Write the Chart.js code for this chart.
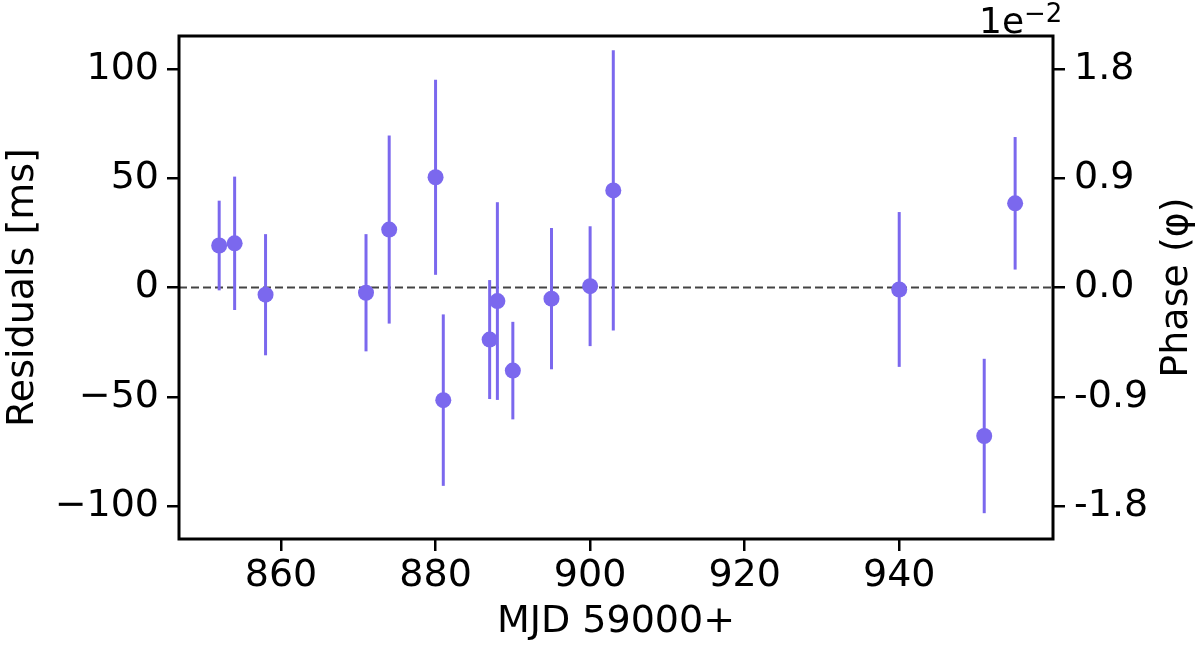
<!DOCTYPE html>
<html>
<head>
<meta charset="utf-8">
<script src="https://cdn.jsdelivr.net/npm/chart.js@4/dist/chart.umd.min.js"></script>
<style>
  html, body { margin: 0; padding: 0; background: #fff; }
  #wrap { width: 1200px; height: 645px; }
</style>
</head>
<body>
<div id="wrap"><canvas id="c" width="1200" height="645"></canvas></div>
<script>
// MJD offsets (59000+), timing residuals [ms] and their 1-sigma errors
var mjd    = [852, 854, 858, 871, 874, 880, 881, 887, 888, 890, 895, 900, 903, 940, 951, 955];
var resid  = [19.2, 20.2, -3.3, -2.4, 26.5, 50.4, -51.5, -23.8, -6.2, -38.0, -5.1, 0.6, 44.4, -0.9, -67.9, 38.5];
var err    = [20.5, 30.5, 27.7, 26.8, 43.0, 44.6, 39.2, 27.2, 45.2, 22.3, 32.3, 27.4, 64.1, 35.4, 35.3, 30.3];

var xTicks     = [860, 880, 900, 920, 940];
var yTicks     = [-100, -50, 0, 50, 100];
var phaseTicks = [-1.8, -0.9, 0, 0.9, 1.8];   // x 1e-2
var phasePerMs = 0.018;                       // phase (1e-2) per ms

var yMin = -115, yMax = 115;
var purple = '#7b68ee';
var font = { family: 'DejaVu Sans', size: 38 };

var points = mjd.map(function (m, i) { return { x: m, y: resid[i] }; });

function fixTicks(values) {
    return function (scale) {
        scale.ticks = values.map(function (v) { return { value: v }; });
    };
}

// error bars, zero line and the axes box
var decor = {
    id: 'decor',
    beforeDatasetsDraw: function (chart) {
        var ctx = chart.ctx, xs = chart.scales.x, ys = chart.scales.y, a = chart.chartArea;
        ctx.save();
        ctx.strokeStyle = '#444';
        ctx.lineWidth = 2;
        ctx.setLineDash([8, 4]);
        ctx.beginPath();
        ctx.moveTo(a.left, ys.getPixelForValue(0));
        ctx.lineTo(a.right, ys.getPixelForValue(0));
        ctx.stroke();
        ctx.setLineDash([]);
        ctx.strokeStyle = purple;
        ctx.lineWidth = 3;
        mjd.forEach(function (m, i) {
            var px = xs.getPixelForValue(m);
            ctx.beginPath();
            ctx.moveTo(px, ys.getPixelForValue(resid[i] - err[i]));
            ctx.lineTo(px, ys.getPixelForValue(resid[i] + err[i]));
            ctx.stroke();
        });
        ctx.restore();
    },
    afterDraw: function (chart) {
        var ctx = chart.ctx, a = chart.chartArea;
        ctx.save();
        ctx.strokeStyle = '#000';
        ctx.lineWidth = 3;
        ctx.strokeRect(a.left, a.top, a.right - a.left, a.bottom - a.top);

        ctx.fillStyle = '#000';
        ctx.font = '38px "DejaVu Sans"';
        ctx.textAlign = 'center';
        ctx.textBaseline = 'middle';
        ctx.translate(1177, (a.top + a.bottom) / 2);
        ctx.rotate(-Math.PI / 2);
        ctx.fillText('Phase (φ)', 0, 0);
        ctx.restore();

        // offset text of the phase axis
        ctx.save();
        ctx.fillStyle = '#000';
        ctx.textAlign = 'left';
        ctx.textBaseline = 'alphabetic';
        ctx.font = '36px "DejaVu Sans"';
        ctx.fillText('1e', a.right - 74, 33);
        var w = ctx.measureText('1e').width;
        ctx.font = '26px "DejaVu Sans"';
        ctx.fillText('−2', a.right - 74 + w, 22);
        ctx.restore();
    }
};

new Chart(document.getElementById('c'), {
    type: 'scatter',
    data: {
        datasets: [{
            data: points,
            backgroundColor: purple,
            borderWidth: 0,
            pointRadius: 8,
            pointHoverRadius: 8
        }]
    },
    options: {
        responsive: false,
        animation: false,
        events: [],
        layout: { padding: { top: 36, left: 0, right: 0, bottom: 0 } },
        plugins: { legend: { display: false }, tooltip: { enabled: false } },
        scales: {
            x: {
                type: 'linear',
                min: 846.8,
                max: 959.9,
                afterBuildTicks: fixTicks(xTicks),
                afterFit: function (s) { s.height = 106; },
                grid: { drawOnChartArea: false, color: '#000', lineWidth: 2.5, tickLength: 12 },
                border: { display: false },
                ticks: { color: '#000', font: font, padding: 2, maxRotation: 0,
                         callback: function (v) { return String(v); } },
                title: { display: true, text: 'MJD 59000+', color: '#000', font: font, padding: 0 }
            },
            y: {
                type: 'linear',
                position: 'left',
                min: yMin,
                max: yMax,
                afterBuildTicks: fixTicks(yTicks),
                afterFit: function (s) { s.width = 179; },
                grid: { drawOnChartArea: false, color: '#000', lineWidth: 2.5, tickLength: 12 },
                border: { display: false },
                ticks: { color: '#000', font: font, padding: 8,
                         callback: function (v) { return v < 0 ? '−' + Math.abs(v) : String(v); } },
                title: { display: true, text: 'Residuals [ms]', color: '#000', font: font, padding: 0 }
            },
            phase: {
                type: 'linear',
                position: 'right',
                min: yMin * phasePerMs,
                max: yMax * phasePerMs,
                afterBuildTicks: fixTicks(phaseTicks),
                afterFit: function (s) { s.width = 147; },
                grid: { drawOnChartArea: false, color: '#000', lineWidth: 2.5, tickLength: 12 },
                border: { display: false },
                ticks: { color: '#000', font: font, padding: 9,
                         callback: function (v) { return v.toFixed(1); } }
            }
        }
    },
    plugins: [decor]
});
</script>
</body>
</html>
